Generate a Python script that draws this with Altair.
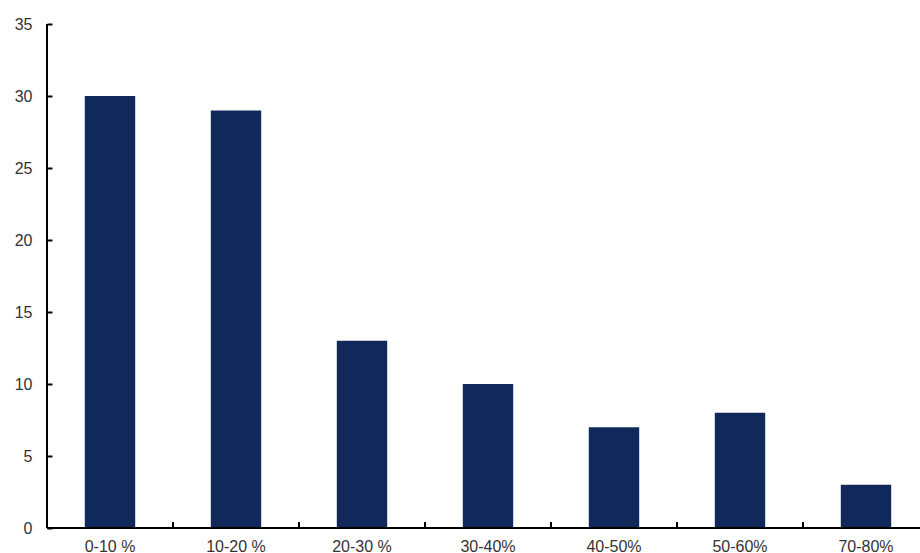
import altair as alt
import pandas as pd

categories = ["0-10 %", "10-20 %", "20-30 %", "30-40%", "40-50%", "50-60%", "70-80%"]
values = [30, 29, 13, 10, 7, 8, 3]
y_ticks = [0, 5, 10, 15, 20, 25, 30, 35]

df = pd.DataFrame({"cat": categories, "val": values})

W, H = 873, 504
RANGE = [0, 882]
FONT = "Liberation Sans"
LABEL_COLOR = "#333333"

x_enc = alt.X("cat:N", sort=categories,
              scale=alt.Scale(paddingInner=0.6, paddingOuter=0.3, range=RANGE),
              axis=alt.Axis(title=None, labelAngle=0, domain=False, ticks=False,
                            labelPadding=10, labelFont=FONT, labelFontSize=16,
                            labelColor=LABEL_COLOR))
y_enc = alt.Y("val:Q", scale=alt.Scale(domain=[0, 35], nice=False),
              axis=alt.Axis(title=None, values=y_ticks, grid=False, domain=False,
                            offset=-5, tickSize=5, tickWidth=2, tickColor="black",
                            labelPadding=15, labelFont=FONT, labelFontSize=16,
                            labelColor=LABEL_COLOR))

bars = alt.Chart(df).mark_bar(color="#10295a").encode(x=x_enc, y=y_enc)

# boundary ticks between categories (inward, pointing up)
xticks = alt.Chart(df).mark_rule(color="black", strokeWidth=2).encode(
    x=alt.X("cat:N", sort=categories, bandPosition=0,
            scale=alt.Scale(paddingInner=0, paddingOuter=0, range=RANGE), axis=None),
    y=alt.value(H - 6), y2=alt.value(H))

xdomain = alt.Chart(df).mark_rule(color="black", strokeWidth=2).encode(
    y=alt.value(H), x=alt.value(0), x2=alt.value(W))
ydomain = alt.Chart(df).mark_rule(color="black", strokeWidth=2).encode(
    x=alt.value(0), y=alt.value(0), y2=alt.value(H))

chart = alt.layer(bars, xticks, xdomain, ydomain).resolve_scale(x="independent").properties(
    width=W, height=H,
    autosize=alt.AutoSizeParams(type="none"),
    padding={"left": 47, "top": 24, "right": 0, "bottom": 25},
).configure(background="white").configure_view(stroke=None, strokeWidth=0)

chart.save("out.html", embed_options={"renderer": "svg", "actions": False})
